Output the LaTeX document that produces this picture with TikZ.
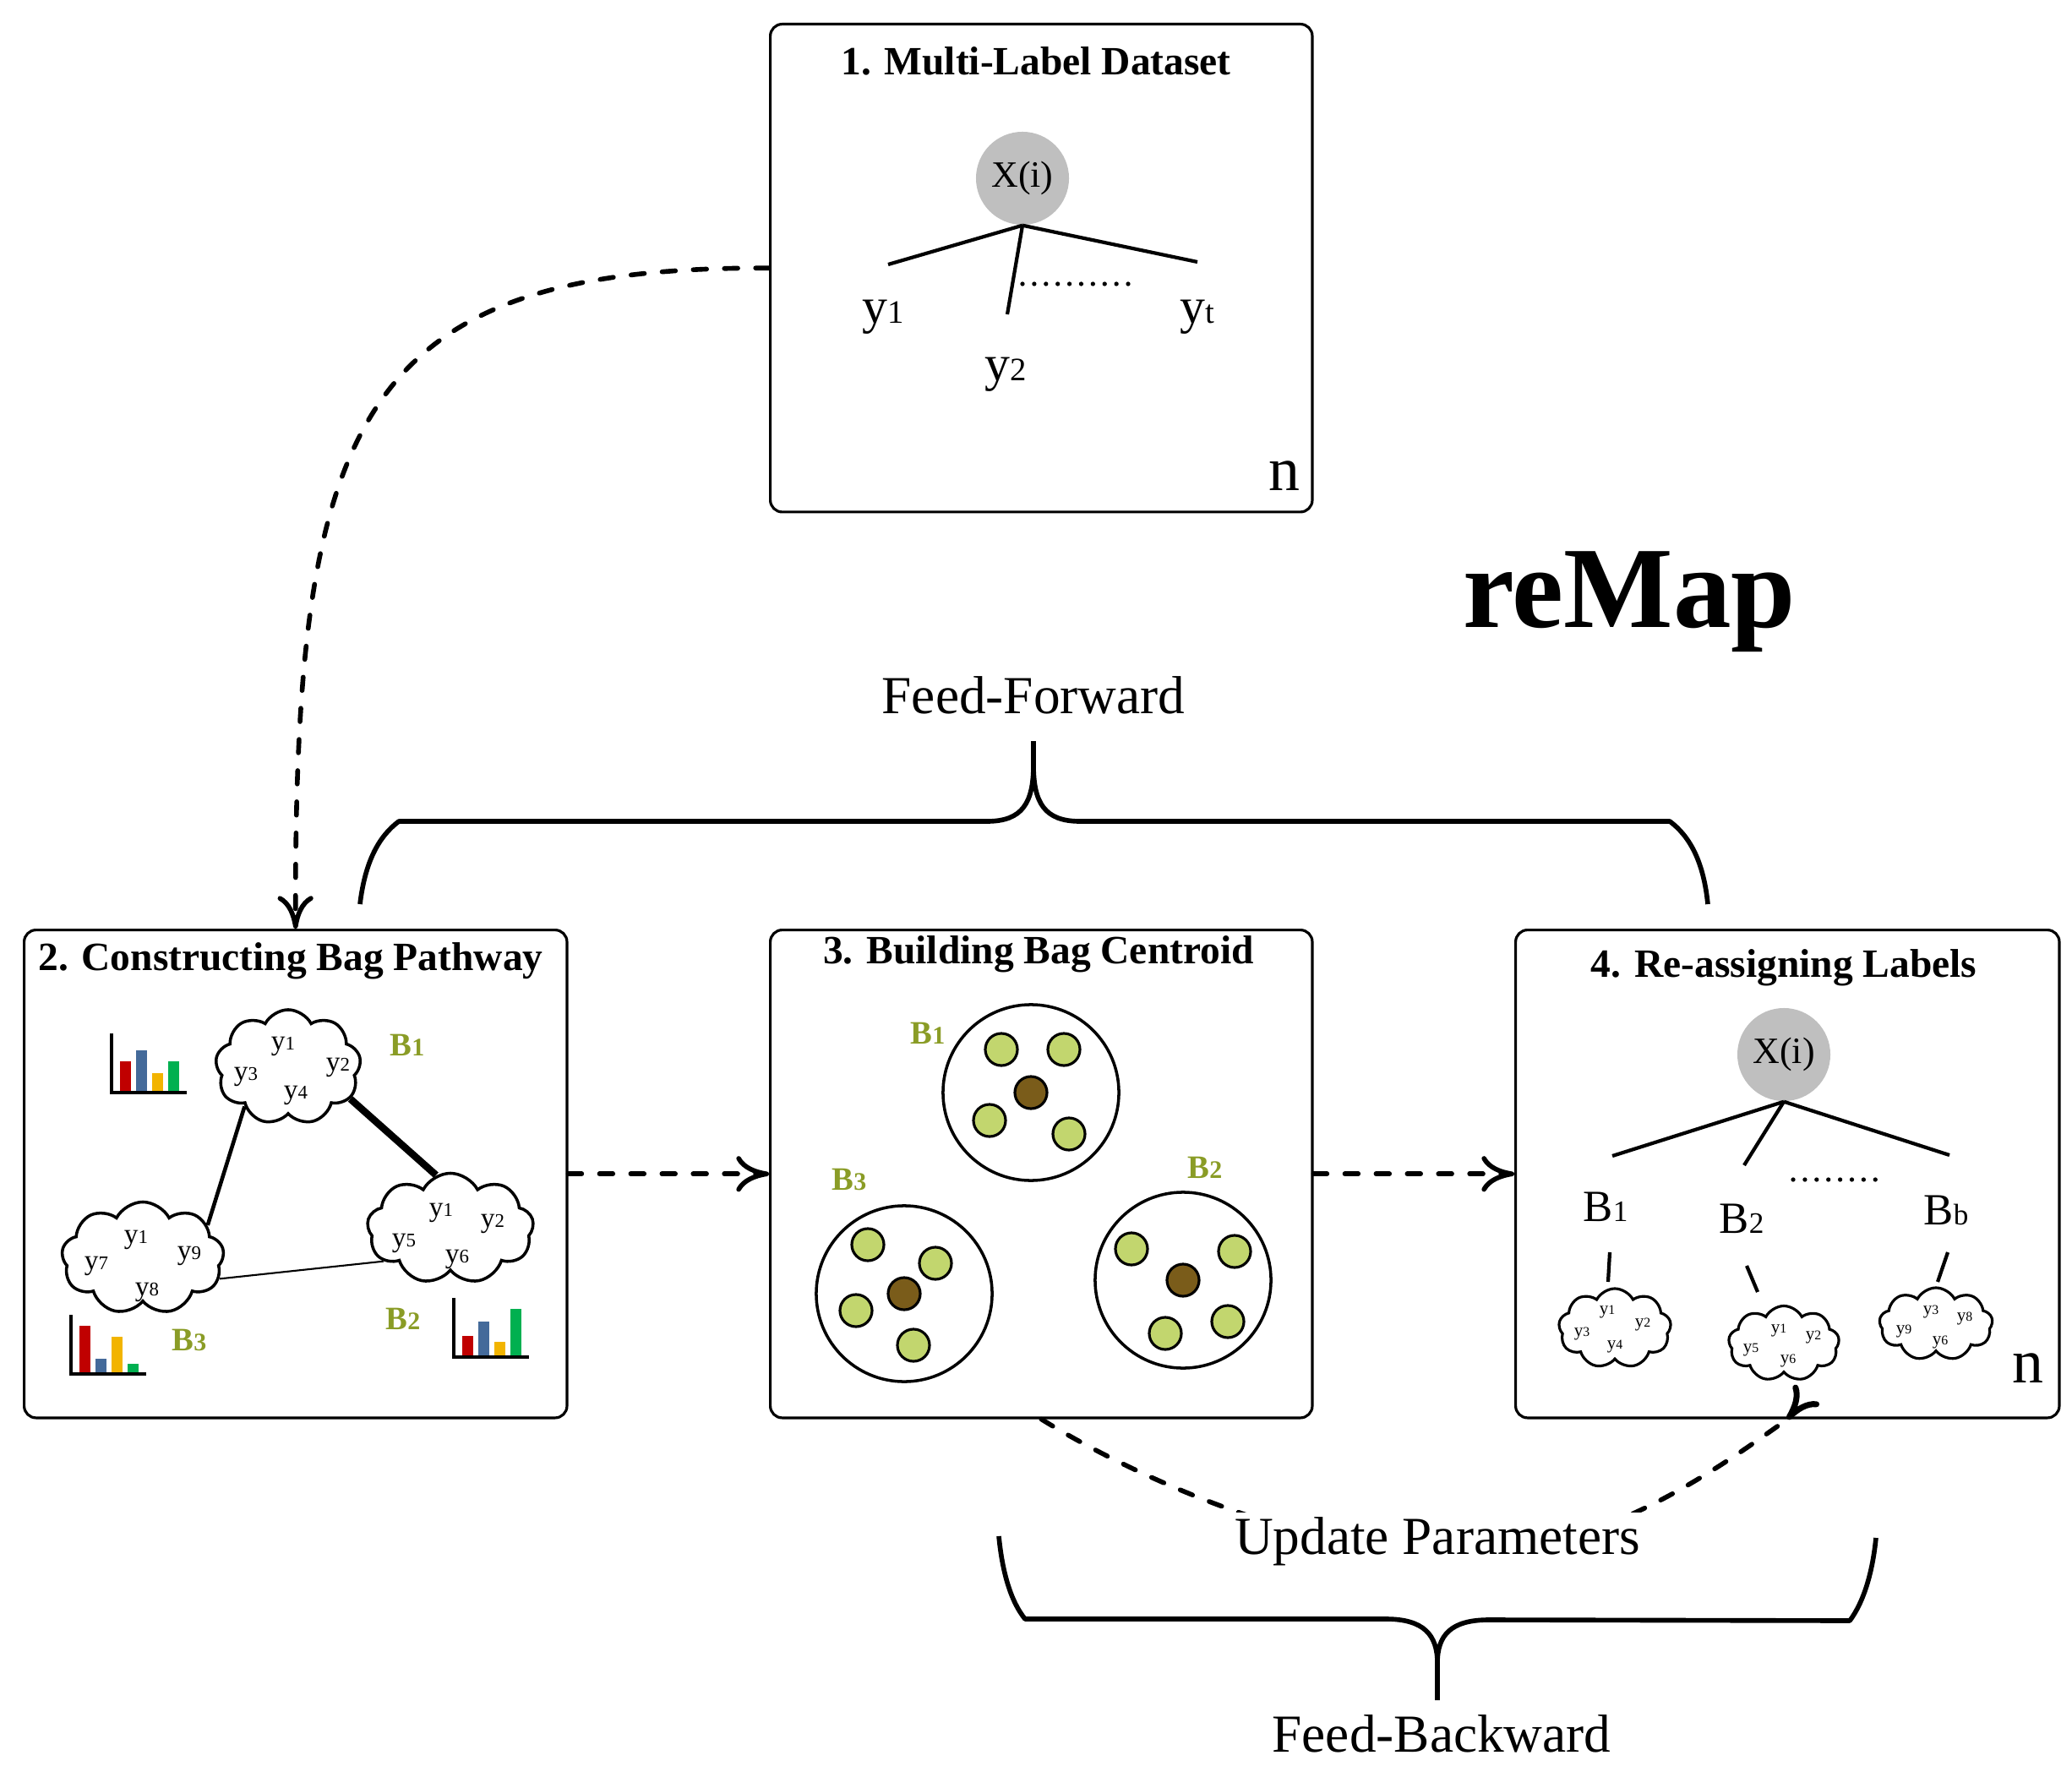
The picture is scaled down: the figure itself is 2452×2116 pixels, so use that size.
\documentclass[tikz,border=0pt]{standalone}
\usepackage{fontspec}
\setmainfont{Liberation Serif}
\usetikzlibrary{arrows.meta,shapes.symbols,calc}
\definecolor{olivegreen}{RGB}{138,156,38}
\definecolor{barred}{RGB}{192,0,0}
\definecolor{barblue}{RGB}{68,106,154}
\definecolor{baryellow}{RGB}{242,180,0}
\definecolor{bargreen}{RGB}{0,176,80}
\definecolor{ptgreen}{RGB}{194,214,110}
\definecolor{ptbrown}{RGB}{122,92,26}
\definecolor{xgray}{RGB}{191,191,191}
\newcommand\fs[1]{\fontsize{#1}{#1}\selectfont}
\newcommand\ylab[3]{{\fs{#1}y}{\fs{#2}#3}}
\newcommand\barchart[6]{%
  \fill[barred] (#1+10,#2) rectangle (#1+23,#2-#3);
  \fill[barblue] (#1+29,#2) rectangle (#1+42,#2-#4);
  \fill[baryellow] (#1+48,#2) rectangle (#1+61,#2-#5);
  \fill[bargreen] (#1+67,#2) rectangle (#1+80,#2-#6);
  \draw[line width=1.2pt] (#1,#2-70) -- (#1,#2) -- (#1+89,#2);
}
\begin{document}
\begin{tikzpicture}[x=0.01cm,y=-0.01cm,
  panel/.style={draw, line width=0.9pt, rounded corners=4pt, anchor=north west, inner sep=0pt},
  ptitle/.style={font=\fs{13.5}\bfseries, inner sep=0pt},
  xnode/.style={circle, fill=xgray, minimum size=1.1cm, inner sep=0pt, font=\fs{12.5}},
  treeline/.style={line width=1.2pt},
  dotline/.style={line width=1.5pt, line cap=round, dash pattern=on 0pt off 3.95pt},
  dashline/.style={line width=1.6pt, line cap=round, dash pattern=on 4.5pt off 6pt},
  cmtip/.style={-{Computer Modern Rightarrow[length=11pt,width=12pt,line width=1.6pt]}},
  bagcloud/.style={cloud, draw, line width=1pt, cloud puffs=9, cloud puff arc=125, cloud ignores aspect, inner sep=0pt},
  smallcloud/.style={bagcloud, line width=0.9pt},
  glabel/.style={font=\fs{11}\bfseries, text=olivegreen, inner sep=0pt},
  blabel/.style={inner sep=0pt},
  bigcirc/.style={circle, draw, line width=1pt, minimum size=2.08cm, inner sep=0pt},
  gpt/.style={circle, draw, line width=0.9pt, fill=ptgreen, minimum size=0.38cm, inner sep=0pt},
  bpt/.style={gpt, fill=ptbrown},
  brace/.style={line width=1.6pt, line join=round},
  big/.style={font=\fs{18}, inner sep=0pt}
]
\useasboundingbox (0,0) rectangle (2452,2116);

% ---------- panels ----------
\node[panel, minimum width=6.41cm, minimum height=5.77cm] (p1) at (910,27) {};
\node[panel, minimum width=6.42cm, minimum height=5.77cm] (p2) at (27,1099) {};
\node[panel, minimum width=6.41cm, minimum height=5.77cm] (p3) at (910,1099) {};
\node[panel, minimum width=6.43cm, minimum height=5.77cm] (p4) at (1792,1099) {};

% ---------- panel 1 ----------
\node[ptitle] (t1) at (1226,72) {1. Multi-Label Dataset};
\node[xnode] (x1) at (1210,211) {X(i)};
\coordinate (e1a) at (1051,313);
\coordinate (e1b) at (1192,372);
\coordinate (e1c) at (1417,310);
\draw[treeline] (x1.south) -- (e1a);
\draw[treeline] (x1.south) -- (e1b);
\draw[treeline] (x1.south) -- (e1c);
\coordinate (d1a) at (1210,336);
\coordinate (d1b) at (1345,336);
\draw[dotline] (d1a) -- (d1b);
\node[blabel] (y1) at (1045,375) {\ylab{17}{11}{1}};
\node[blabel] (y2) at (1190,443) {\ylab{17}{11}{2}};
\node[blabel] (yt) at (1417,375) {\ylab{17}{11}{t}};
\node[blabel] (n1) at (1520,563) {\fs{21}n};

% ---------- title texts ----------
\node[font=\fs{39}\bfseries, inner sep=0pt] (remap) at (1928,712) {reMap};
\node[big] (ff) at (1223,823) {Feed-Forward};
\node[big] (fb) at (1706,2052) {Feed-Backward};

% ---------- braces ----------
\draw[brace] (426,1070) .. controls (432,1020) and (448,990) .. (472,972)
  -- (1168,972) .. controls (1210,972) and (1223,950) .. (1223,905) -- (1223,877);
\draw[brace] (1223,905) .. controls (1223,950) and (1236,972) .. (1278,972)
  -- (1976,972) .. controls (2000,990) and (2016,1020) .. (2021,1070);
\draw[brace] (1182,1818) .. controls (1186,1860) and (1196,1895) .. (1213,1916)
  -- (1640,1916) .. controls (1685,1916) and (1701,1935) .. (1701,1968) -- (1701,2012);
\draw[brace] (1701,1968) .. controls (1701,1935) and (1717,1917) .. (1762,1917)
  -- (2189,1918) .. controls (2206,1895) and (2216,1860) .. (2220,1820);

% ---------- panel 2 ----------
\node[ptitle] (t2) at (344,1137) {2. Constructing Bag Pathway};
\node[bagcloud, minimum width=1.72cm, minimum height=1.36cm] (c21) at (341,1263) {};
\node[bagcloud, minimum width=1.97cm, minimum height=1.31cm] (c22) at (533,1454) {};
\node[bagcloud, minimum width=1.92cm, minimum height=1.33cm] (c23) at (169,1489) {};
\draw[line width=2.4pt] (c21.-27) -- (c22.105);
\draw[line width=1.3pt] (c21.222) -- (c23.27);
\draw[line width=0.6pt] (c23.-15) -- (c22.206);
\node[blabel] at (335,1238) {\ylab{9.5}{6.5}{1}};
\node[blabel] at (400,1263) {\ylab{9.5}{6.5}{2}};
\node[blabel] at (291,1274) {\ylab{9.5}{6.5}{3}};
\node[blabel] at (350,1296) {\ylab{9.5}{6.5}{4}};
\node[blabel] at (522,1435) {\ylab{9.5}{6.5}{1}};
\node[blabel] at (583,1448) {\ylab{9.5}{6.5}{2}};
\node[blabel] at (478,1471) {\ylab{9.5}{6.5}{5}};
\node[blabel] at (541,1490) {\ylab{9.5}{6.5}{6}};
\node[blabel] at (161,1467) {\ylab{9.5}{6.5}{1}};
\node[blabel] at (224,1486) {\ylab{9.5}{6.5}{9}};
\node[blabel] at (114,1498) {\ylab{9.5}{6.5}{7}};
\node[blabel] at (174,1529) {\ylab{9.5}{6.5}{8}};
\node[glabel] (gb21) at (482,1237) {B{\fs{8.5}1}};
\node[glabel] (gb22) at (477,1561) {B{\fs{8.5}2}};
\node[glabel] (gb23) at (224,1586) {B{\fs{8.5}3}};
\barchart{132}{1293}{37}{50}{23}{37}
\barchart{84}{1626}{57}{18}{44}{12.5}
\barchart{537}{1606}{25}{42}{18}{57}

% ---------- panel 3 ----------
\node[ptitle] (t3) at (1229,1129) {3. Building Bag Centroid};
\node[bigcirc] (g1) at (1220,1293) {};
\node[bigcirc] (g3) at (1070,1531) {};
\node[bigcirc] (g2) at (1400,1515) {};
\node[gpt] at (1185,1242) {};
\node[gpt] at (1259,1242) {};
\node[gpt] at (1171,1326) {};
\node[gpt] at (1265,1342) {};
\node[bpt] at (1220,1293) {};
\node[gpt] at (1027,1473) {};
\node[gpt] at (1107,1495) {};
\node[gpt] at (1013,1551) {};
\node[gpt] at (1081,1592) {};
\node[bpt] at (1070,1531) {};
\node[gpt] at (1339,1478) {};
\node[gpt] at (1461,1481) {};
\node[gpt] at (1379,1578) {};
\node[gpt] at (1453,1564) {};
\node[bpt] at (1400,1515) {};
\node[glabel] (gb31) at (1098,1223) {B{\fs{8.5}1}};
\node[glabel] (gb33) at (1005,1396) {B{\fs{8.5}3}};
\node[glabel] (gb32) at (1426,1382) {B{\fs{8.5}2}};

% ---------- panel 4 ----------
\node[ptitle] (t4) at (2111,1145) {4. Re-assigning Labels};
\node[xnode] (x4) at (2111,1248) {X(i)};
\coordinate (e4a) at (1908,1368);
\coordinate (e4b) at (2064,1379);
\coordinate (e4c) at (2307,1367);
\draw[treeline] (x4.south) -- (e4a);
\draw[treeline] (x4.south) -- (e4b);
\draw[treeline] (x4.south) -- (e4c);
\coordinate (d4a) at (2122,1396);
\coordinate (d4b) at (2224,1396);
\draw[dotline] (d4a) -- (d4b);
\node[blabel] (b41) at (1900,1428) {{\fs{15}B}{\fs{10}1}};
\node[blabel] (b42) at (2061,1442) {{\fs{15}B}{\fs{10}2}};
\node[blabel] (b4b) at (2303,1432) {{\fs{15}B}{\fs{10}b}};
\node[smallcloud, minimum width=1.33cm, minimum height=0.94cm] (c41) at (1911,1572) {};
\node[smallcloud, minimum width=1.31cm, minimum height=0.89cm] (c42) at (2111,1590) {};
\node[smallcloud, minimum width=1.34cm, minimum height=0.86cm] (c43) at (2291,1567) {};
\coordinate (l41) at (1905,1482);
\coordinate (l42) at (2067,1498);
\coordinate (l43) at (2305,1482);
\coordinate (m41) at (1903,1517);
\coordinate (m42) at (2080,1529);
\coordinate (m43) at (2293,1517);
\draw[treeline] (l41) -- (m41);
\draw[treeline] (l42) -- (m42);
\draw[treeline] (l43) -- (m43);
\node[blabel] at (1902,1553) {\ylab{6}{4.5}{1}};
\node[blabel] at (1944,1568) {\ylab{6}{4.5}{2}};
\node[blabel] at (1872,1579) {\ylab{6}{4.5}{3}};
\node[blabel] at (1911,1594) {\ylab{6}{4.5}{4}};
\node[blabel] at (2105,1575) {\ylab{6}{4.5}{1}};
\node[blabel] at (2146,1583) {\ylab{6}{4.5}{2}};
\node[blabel] at (2072,1598) {\ylab{6}{4.5}{5}};
\node[blabel] at (2116,1611) {\ylab{6}{4.5}{6}};
\node[blabel] at (2285,1553) {\ylab{6}{4.5}{3}};
\node[blabel] at (2325,1561) {\ylab{6}{4.5}{8}};
\node[blabel] at (2253,1576) {\ylab{6}{4.5}{9}};
\node[blabel] at (2296,1589) {\ylab{6}{4.5}{6}};
\node[blabel] (n4) at (2400,1619) {\fs{21}n};

% ---------- connectors ----------
\draw[dashline, cmtip] (p1.west) .. controls (420,315) and (348,500) .. (p2.north);
\draw[dashline, cmtip] (p2.east) -- (p3.west);
\draw[dashline, cmtip] (p3.east) -- (p4.west);
\draw[dashline] (p3.south) .. controls (1330,1740) and (1520,1830) .. (1701,1840)
  .. controls (1880,1850) and (2030,1740) .. (p4.south);
\draw[line width=1.4pt, -{Computer Modern Rightarrow[length=11pt,width=11pt,line width=2pt]}]
  ($(p4.south)+(6.2,-7.8)$) -- (p4.south);
\node[big, fill=white, inner xsep=1pt, inner ysep=1.5pt, anchor=base] (up) at (1701,1839) {Update Parameters};
\end{tikzpicture}
\end{document}
